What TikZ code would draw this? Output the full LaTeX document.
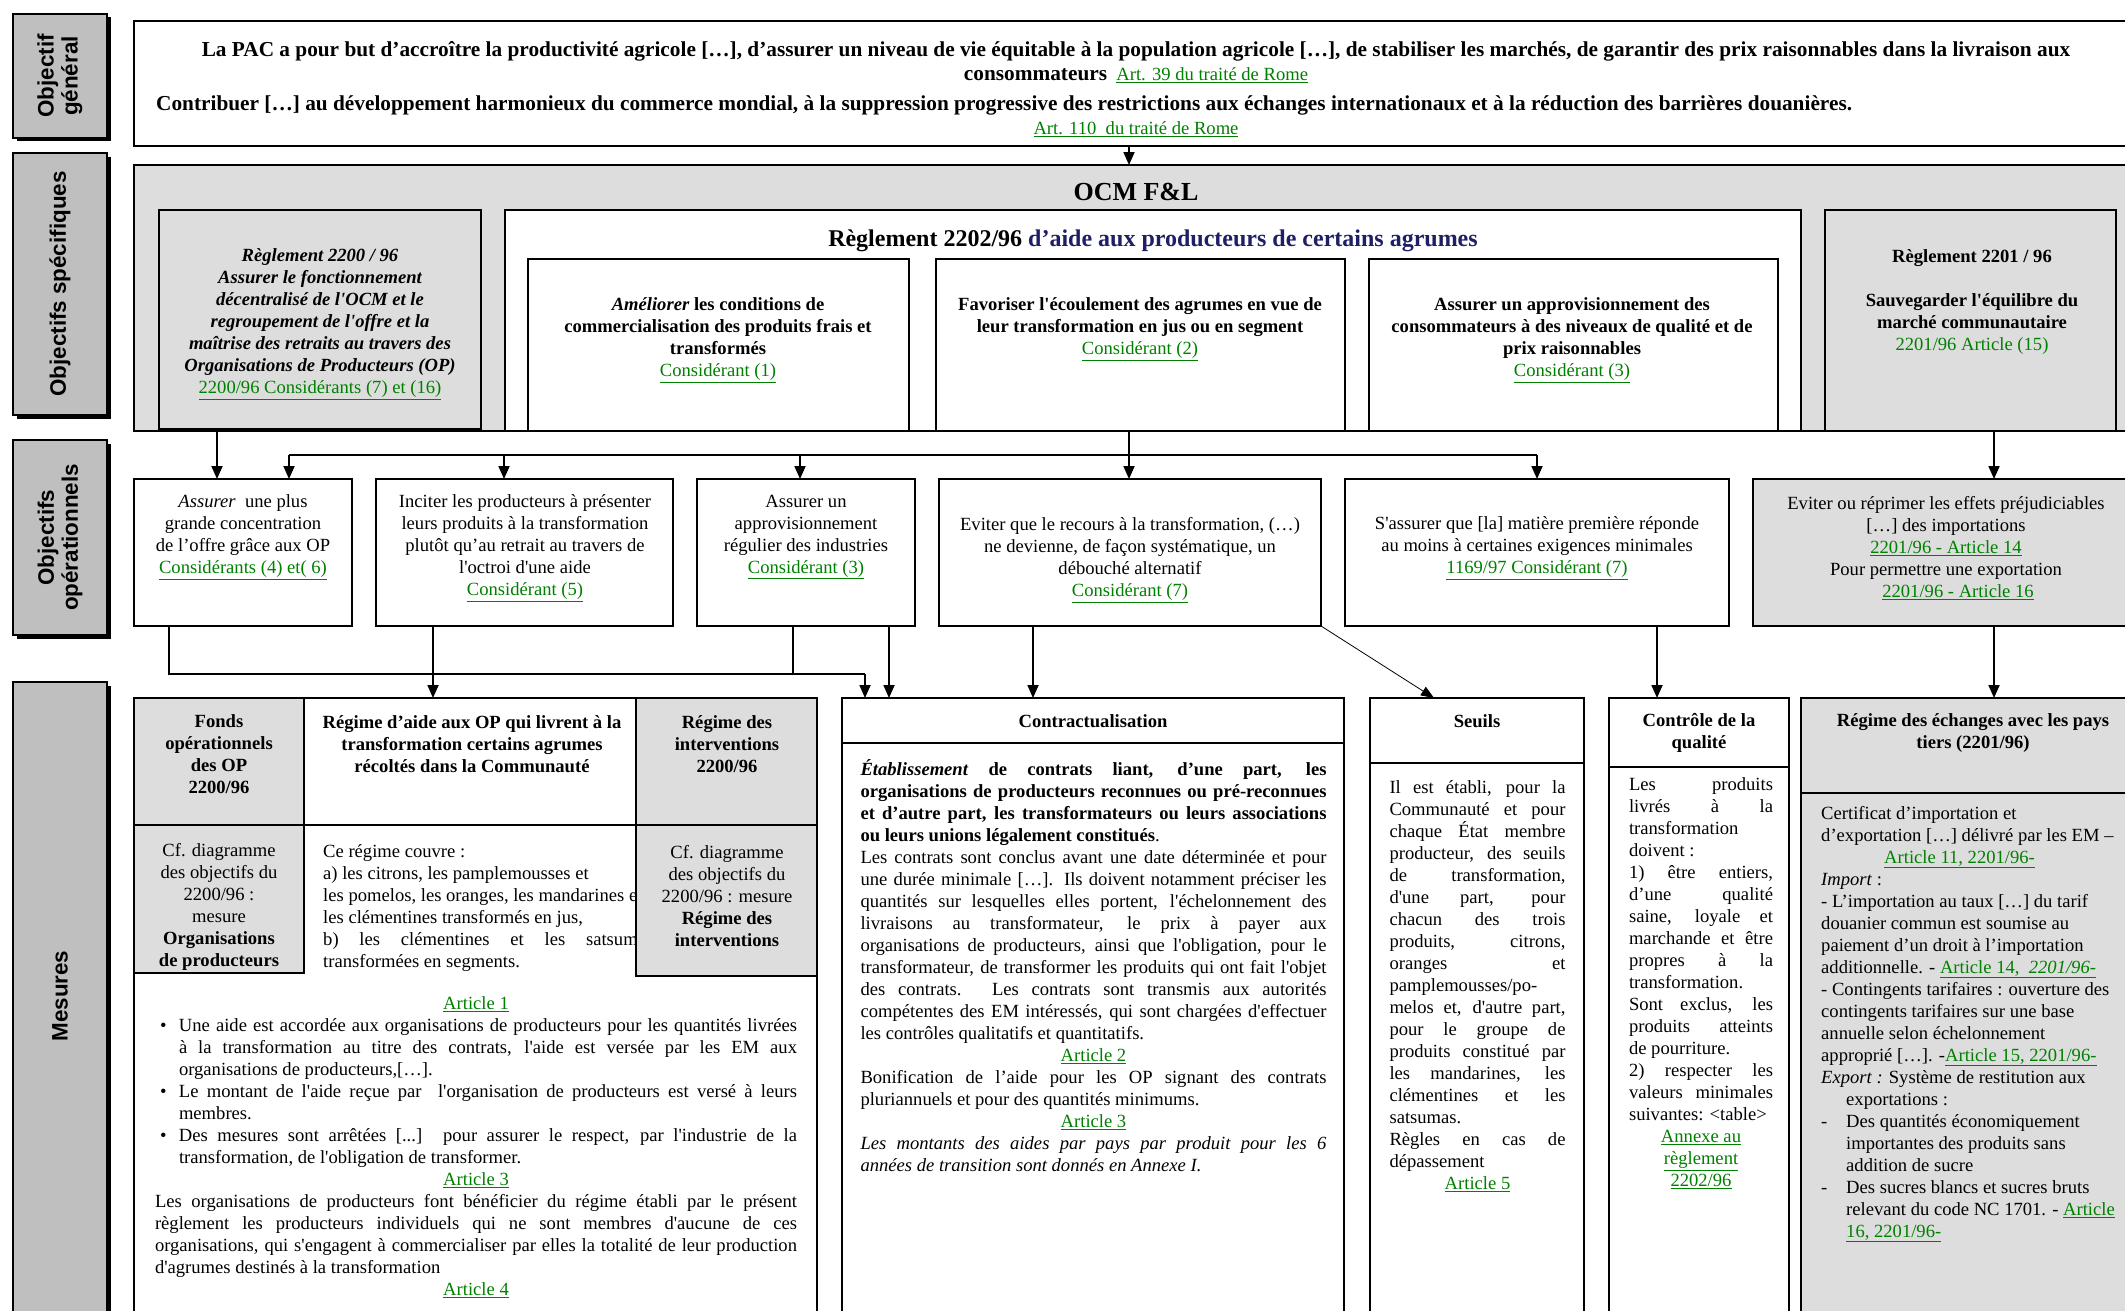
\documentclass[tikz,border=0pt]{standalone}
\usepackage{fontspec}
\setmainfont{Liberation Serif}[Ligatures=TeXOff]
\newfontfamily\lblfont{Liberation Sans}
\usetikzlibrary{arrows.meta,shadows}
\definecolor{lkgreen}{HTML}{008000}
\definecolor{navyt}{HTML}{1F1F66}
\definecolor{boxgray}{HTML}{DDDDDD}
\definecolor{lblgray}{HTML}{BFBFBF}
\newcommand\lk[1]{\textcolor{lkgreen}{\underline{#1}}}
\newcommand\bodyfs{\fontsize{18.6}{22}\selectfont}
\newcommand\rbox[6][]{\node[bx,#1,minimum width={#5-#3},minimum height={#6-#4}] (#2) at (#3,#4) {};}
\hbadness=10000 \vbadness=10000 \hfuzz=6pt
\setlength\parindent{0pt}
\begin{document}
\begin{tikzpicture}[x=1pt,y=-1pt,
  bx/.style={draw=black,line width=2pt,inner sep=0pt,outer sep=0pt,anchor=north west},
  txt/.style={font=\bodyfs,align=center,inner sep=0pt},
  conn/.style={line width=1.8pt},
  arr/.style={line width=1.8pt,-{Triangle[length=13pt,width=11pt]}},
  thinarr/.style={line width=0.8pt,-{Triangle[length=13pt,width=10pt]}},
  lbl/.style={fill=lblgray,line width=1.2pt,drop shadow={shadow xshift=3.5pt,shadow yshift=-3.5pt,opacity=1,fill=black}},
  lbltxt/.style={font=\lblfont\bfseries\fontsize{22.4}{24}\selectfont,align=center,inner sep=0pt}]
\useasboundingbox (0,0) rectangle (2125,1311);
\clip (0,0) rectangle (2125,1311);
\fill[white] (0,0) rectangle (2125,1311);

% ---- left labels
\rbox[lbl]{L1}{13}{14}{107}{138}
\rbox[lbl]{L2}{13}{153}{107}{415}
\rbox[lbl]{L3}{13}{440}{107}{635}
\rbox[lbl]{L4}{13}{682}{107}{1330}
\coordinate (m4) at (60,996);
\node[lbltxt,rotate=90] (L1t) at (L1.center) {Objectif\\général};
\node[lbltxt,rotate=90] (L2t) at (L2.center) {Objectifs spécifiques};
\node[lbltxt,rotate=90] (L3t) at (L3.center) {Objectifs\\opérationnels};
\node[lbltxt,rotate=90] (L4t) at (m4) {Mesures};

% ---- general objective
\rbox[line width=2.5pt]{T}{134}{21}{2140}{146}
\node[txt,font=\bfseries\fontsize{21.3}{24}\selectfont] (tA) at (1136,51) {La PAC a pour but d’accroître la productivité agricole […], d’assurer un niveau de vie équitable à la population agricole […], de stabiliser les marchés, de garantir des prix raisonnables dans la livraison aux};
\node[txt] (tB) at (1136,75) {{\bfseries\fontsize{21.3}{24}\selectfont consommateurs}\ \ \lk{Art. 39 du traité de Rome}};
\node[txt,font=\bfseries\fontsize{21.3}{24}\selectfont,anchor=west] (tC) at (156,105) {Contribuer […] au développement harmonieux du commerce mondial, à la suppression progressive des restrictions aux échanges internationaux et à la réduction des barrières douanières.};
\node[txt] (tD) at (1136,129) {\lk{Art. 110\ \ du traité de Rome}};

% ---- specific objectives
\rbox[fill=boxgray]{OCM}{134}{165}{2140}{431}
\coordinate (a0) at (1129,0);
\draw[arr] (T.south -| a0) -- (OCM.north -| a0);
\node[txt,font=\bfseries\fontsize{26}{30}\selectfont] (ocmt) at (1136,192) {OCM F\&L};
\rbox[fill=boxgray]{B2200}{159}{210}{481}{429}
\rbox[fill=white]{B2202}{505}{210}{1801}{431}
\rbox[fill=boxgray]{B2201}{1825}{210}{2116}{431}
\node[txt,font=\bfseries\fontsize{24}{28}\selectfont] (t2202) at (1153,241) {Règlement 2202/96 \textcolor{navyt}{d’aide aux producteurs de certains agrumes}};
\rbox[fill=white]{SA}{528}{259}{909}{431}
\rbox[fill=white]{SB}{936}{259}{1345}{431}
\rbox[fill=white]{SC}{1369}{259}{1778}{431}
\node[txt,font=\bodyfs\bfseries\itshape] (t2200) at (320,324) {Règlement 2200 / 96\\Assurer le fonctionnement\\décentralisé de l'OCM et le\\regroupement de l'offre et la\\maîtrise des retraits au travers des\\Organisations de Producteurs (OP)\\{\normalfont\lk{2200/96 Considérants (7) et (16)}}};
\node[txt] (tSA) at (718,340) {\textbf{\textit{Améliorer} les conditions de}\\\textbf{commercialisation des produits frais et}\\\textbf{transformés}\\\lk{Considérant (1)}};
\node[txt] (tSB) at (1140,329) {\textbf{Favoriser l'écoulement des agrumes en vue de}\\\textbf{leur transformation en jus ou en segment}\\\lk{Considérant (2)}};
\node[txt] (tSC) at (1572,340) {\textbf{Assurer un approvisionnement des}\\\textbf{consommateurs à des niveaux de qualité et de}\\\textbf{prix raisonnables}\\\lk{Considérant (3)}};
\node[txt] (t2201) at (1972,302) {\textbf{Règlement 2201 / 96}\\[22pt]\textbf{Sauvegarder l'équilibre du}\\\textbf{marché communautaire}\\\textcolor{lkgreen}{2201/96 Article (15)}};

% ---- operational objectives
\rbox{O1}{134}{479}{352}{626}
\rbox{O2}{376}{479}{673}{626}
\rbox{O3}{697}{479}{915}{626}
\rbox{O4}{939}{479}{1321}{626}
\rbox{O5}{1345}{479}{1729}{626}
\rbox[fill=boxgray]{O6}{1753}{479}{2140}{626}
\node[txt] (tO1) at (243,537) {\textit{Assurer}\ \ une plus\\grande concentration\\de l’offre grâce aux OP\\\lk{Considérants (4) et( 6)}};
\node[txt] (tO2) at (525,548) {Inciter les producteurs à présenter\\leurs produits à la transformation\\plutôt qu’au retrait au travers de\\l'octroi d'une aide\\\lk{Considérant (5)}};
\node[txt] (tO3) at (806,537) {Assurer un\\approvisionnement\\régulier des industries\\\lk{Considérant (3)}};
\node[txt] (tO4) at (1130,560) {Eviter que le recours à la transformation, (…)\\ne devienne, de façon systématique, un\\débouché alternatif\\\lk{Considérant (7)}};
\node[txt] (tO5) at (1537,548) {S'assurer que [la] matière première réponde\\au moins à certaines exigences minimales\\\lk{1169/97 Considérant (7)}};
\node[txt] (tO6) at (1946,548) {Eviter ou réprimer les effets préjudiciables\\{[…]} des importations\\\lk{2201/96 - Article 14}\\Pour permettre une exportation\\\hspace*{24pt}\lk{2201/96 - Article 16}};

% connectors specific -> operational
\coordinate (v1) at (217,0);
\coordinate (v6) at (1994,0);
\coordinate (h1) at (289,455);
\coordinate (h2) at (504,455);
\coordinate (h3) at (800,455);
\coordinate (ca) at (1129,455);
\coordinate (h5) at (1537,455);
\draw[arr] (B2200.south -| v1) -- (O1.north -| v1);
\draw[arr] (B2201.south -| v6) -- (O6.north -| v6);
\draw[conn] (h1) -- (h5);
\draw[conn] (B2202.south -| ca) -- (ca);
\draw[arr] (h1) -- (O1.north -| h1);
\draw[arr] (h2) -- (O2.north -| h2);
\draw[arr] (h3) -- (O3.north -| h3);
\draw[arr] (ca) -- (O4.north -| ca);
\draw[arr] (h5) -- (O5.north -| h5);

% ---- measures
\rbox{M1}{134}{698}{817}{1340}
\rbox[fill=boxgray]{F1}{134}{698}{304}{825}
\rbox{Mh}{304}{698}{636}{825}
\rbox[fill=boxgray]{F3}{636}{698}{817}{825}
\node[txt,align=justify,text width=330pt,anchor=west] (tMr) at (323,908) {Ce régime couvre :\\a) les citrons, les pamplemousses et\\les pomelos, les oranges, les mandarines et\\les clémentines transformés en jus,\\b) les clémentines et les satsumas\linebreak transformées en segments.};
\rbox[fill=boxgray]{G1}{134}{825}{304}{973}
\rbox[fill=boxgray]{G3}{636}{825}{817}{976}
\node[txt,font=\bodyfs\bfseries] (tF1) at (219,754) {Fonds\\opérationnels\\des OP\\2200/96};
\node[txt,font=\bodyfs\bfseries] (tMh) at (472,744) {Régime d’aide aux OP qui livrent à la\\transformation certains agrumes\\récoltés dans la Communauté};
\node[txt,font=\bodyfs\bfseries] (tF3) at (727,744) {Régime des\\interventions\\2200/96};
\node[txt] (tG1) at (219,907) {Cf. diagramme\\des objectifs du\\2200/96 :\\mesure\\\textbf{Organisations}\\\textbf{de producteurs}};
\node[txt] (tG3) at (727,896) {Cf. diagramme\\des objectifs du\\2200/96 : mesure\\\textbf{Régime des}\\\textbf{interventions}};
\node[txt,align=justify,text width=642pt] (tM1b) at (476,1143) {\par\centerline{\lk{Article 1}}
\hangindent=24pt\hangafter=1\hspace*{5pt}\makebox[19pt][l]{\textbullet}Une aide est accordée aux organisations de producteurs pour les quantités livrées\linebreak à la transformation au titre des contrats, l'aide est versée par les EM aux\linebreak organisations de producteurs,[…].\par
\hangindent=24pt\hangafter=1\hspace*{5pt}\makebox[19pt][l]{\textbullet}Le montant de l'aide reçue par\ \ l'organisation de producteurs est versé à leurs\linebreak membres.\par
\hangindent=24pt\hangafter=1\hspace*{5pt}\makebox[19pt][l]{\textbullet}Des mesures sont arrêtées [...] pour assurer le respect, par l'industrie de la\linebreak transformation, de l'obligation de transformer.\par
\centerline{\lk{Article 3}}
Les organisations de producteurs font bénéficier du régime établi par le présent\linebreak règlement les producteurs individuels qui ne sont membres d'aucune de ces\linebreak organisations, qui s'engagent à commercialiser par elles la totalité de leur production\linebreak d'agrumes destinés à la transformation\par
\centerline{\lk{Article 4}}};

\rbox{MC}{842}{698}{1344}{1340}
\rbox{MCh}{842}{698}{1344}{743}
\node[txt,font=\bodyfs\bfseries] (tMCt) at (1093,721) {Contractualisation};
\node[txt,align=justify,text width=466pt] (tMCb) at (1093.5,966) {\textbf{\textit{Établissement} de contrats liant, d’une part, les}\linebreak
\textbf{organisations de producteurs reconnues ou \mbox{pré-reconnues}}\linebreak
\textbf{et d’autre part, les transformateurs ou leurs associations}\linebreak
\textbf{ou leurs unions légalement constitués}.\par
Les contrats sont conclus avant une date déterminée et pour\linebreak
une durée minimale […]. Ils doivent notamment préciser les\linebreak
quantités sur lesquelles elles portent, l'échelonnement des\linebreak
livraisons au transformateur, le prix à payer aux\linebreak
organisations de producteurs, ainsi que l'obligation, pour le\linebreak
transformateur, de transformer les produits qui ont fait l'objet\linebreak
des contrats. Les contrats sont transmis aux autorités\linebreak
compétentes des EM intéressés, qui sont chargées d'effectuer\linebreak
les contrôles qualitatifs et quantitatifs.\par
\centerline{\lk{Article 2}}
Bonification de l’aide pour les OP signant des contrats\linebreak
pluriannuels et pour des quantités minimums.\par
\centerline{\lk{Article 3}}
\textit{Les montants des aides par pays par produit pour les 6\linebreak années de transition sont donnés en Annexe I.}};

\rbox{MS}{1370}{698}{1584}{1340}
\rbox{MSh}{1370}{698}{1584}{763}
\node[txt,font=\bodyfs\bfseries] (tMSt) at (1477,721) {Seuils};
\node[txt,align=justify,text width=176pt] (tMSb) at (1477.5,986) {Il est établi, pour la\linebreak Communauté et pour\linebreak chaque État membre\linebreak producteur, des seuils\linebreak de transformation,\linebreak d'une part, pour\linebreak chacun des trois\linebreak produits, citrons,\linebreak oranges et\linebreak pamplemousses/po-\\melos et, d'autre part,\linebreak pour le groupe de\linebreak produits constitué par\linebreak les mandarines, les\linebreak clémentines et les\linebreak satsumas.\\Règles en cas de\linebreak dépassement\par
\centerline{\lk{Article 5}}};

\rbox{MQ}{1609}{698}{1789}{1340}
\rbox{MQh}{1609}{698}{1789}{767}
\node[txt,font=\bodyfs\bfseries] (tMQt) at (1699,733) {Contrôle de la\\qualité};
\node[txt,align=justify,text width=144pt] (tMQb) at (1701,983) {Les produits\linebreak livrés à la\linebreak transformation\\doivent :\\1) être entiers,\linebreak d’une qualité\linebreak saine, loyale et\linebreak marchande et être\linebreak propres à la\linebreak transformation.\\Sont exclus, les\linebreak produits atteints\linebreak de pourriture.\\2) respecter les\linebreak valeurs minimales\linebreak suivantes: <table>\par
\centerline{\lk{Annexe au}}
\centerline{\lk{règlement}}
\centerline{\lk{2202/96}}};

\rbox[fill=boxgray]{ME}{1801}{698}{2140}{1340}
\rbox[fill=boxgray]{MEh}{1801}{698}{2140}{793}
\node[txt,font=\bodyfs\bfseries] (tMEt) at (1973,733) {Régime des échanges avec les pays\\tiers (2201/96)};
\node[txt,align=left,anchor=west] (tMEb) at (1821,1024) {Certificat d’importation et\\d’exportation […] délivré par les EM –\\\hspace*{63pt}\lk{Article 11, 2201/96-}\\\textit{Import} :\\- L’importation au taux […] du tarif\\douanier commun est soumise au\\paiement d’un droit à l’importation\\additionnelle. - \lk{Article 14,\ \ \textit{2201/96-}}\\- Contingents tarifaires : ouverture des\\contingents tarifaires sur une base\\annuelle selon échelonnement\\approprié […]. -\lk{Article 15, 2201/96-}\\\textit{Export :} Système de restitution aux\\\hspace*{25pt}exportations :\\\makebox[25pt][l]{-}Des quantités économiquement\\\hspace*{25pt}importantes des produits sans\\\hspace*{25pt}addition de sucre\\\makebox[25pt][l]{-}Des sucres blancs et sucres bruts\\\hspace*{25pt}relevant du code NC 1701. - \lk{Article}\\\hspace*{25pt}\lk{16, 2201/96-}};

% connectors operational -> measures
\coordinate (j1) at (169,674);
\coordinate (j3) at (793,674);
\coordinate (j2) at (865,674);
\coordinate (k1) at (889,0);
\coordinate (k2) at (433,0);
\coordinate (k3) at (1033,0);
\coordinate (k4) at (1434,0);
\coordinate (k5) at (1657,0);
\draw[conn] (O1.south -| j1) -- (j1) -- (j2);
\draw[arr] (j2) -- (MC.north -| j2);
\draw[conn] (O3.south -| j3) -- (j3);
\draw[arr] (O3.south -| k1) -- (MC.north -| k1);
\draw[arr] (O2.south -| k2) -- (M1.north -| k2);
\draw[arr] (O4.south -| k3) -- (MC.north -| k3);
\draw[thinarr] (O4.south east) -- (MS.north -| k4);
\draw[arr] (O5.south -| k5) -- (MQ.north -| k5);
\draw[arr] (O6.south -| v6) -- (ME.north -| v6);
\end{tikzpicture}
\end{document}
